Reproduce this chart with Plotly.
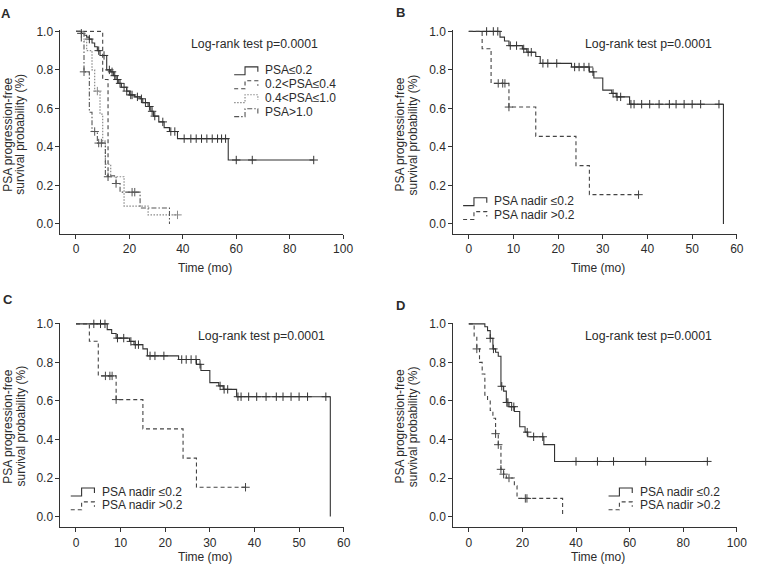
import plotly.graph_objects as go

# ---------------- data ----------------
# Panel A: PSA groups
a1_t = [0, 2, 3, 4, 5, 6, 7, 8, 9, 11.5, 13, 14, 15, 16, 17, 19, 20, 22, 24, 25, 27, 28, 29, 31, 33, 35, 38, 57]
a1_s = [1.0, 0.99, 0.98, 0.97, 0.96, 0.94, 0.92, 0.90, 0.875, 0.80, 0.79, 0.77, 0.75, 0.73, 0.71, 0.69, 0.67, 0.66, 0.65, 0.63, 0.61, 0.585, 0.56, 0.53, 0.50, 0.48, 0.443, 0.332]
a1_c = [2, 5, 8.5, 10.5, 12.5, 13.5, 14.5, 15.5, 16.5, 18, 19, 20.5, 21, 23, 24.5, 26, 27.5, 28.5, 29.5, 32.5,
        35.5, 37, 40.5, 43, 45, 47, 49, 51, 53, 54.5, 56, 60, 66, 89]
a1_end = 89

a2_t = [0, 10, 12]
a2_s = [1.0, 0.75, 0.245]
a2_c = [12]
a2_end = 12

a3_t = [0, 3, 4, 6, 7, 9, 10, 11, 13, 18, 27]
a3_s = [1.0, 0.96, 0.90, 0.80, 0.69, 0.57, 0.43, 0.31, 0.245, 0.093, 0.047]
a3_c = [8, 38]
a3_end = 38

a4_t = [0, 2, 3, 5, 6, 8, 11, 15, 16.5, 24, 35]
a4_s = [1.0, 0.95, 0.79, 0.58, 0.48, 0.42, 0.25, 0.21, 0.165, 0.083, 0.0]
a4_c = [3, 7, 8.5, 9.5, 15, 21, 22]
a4_end = 35

# Panels B and C: PSA nadir
b1_t = [0, 7, 8, 9, 12, 13, 15, 16, 23, 27, 28, 30, 32, 33, 36, 57]
b1_s = [1.0, 0.97, 0.95, 0.926, 0.909, 0.892, 0.87, 0.834, 0.815, 0.79, 0.758, 0.695, 0.678, 0.66, 0.622, 0.0]
b1_c = [4, 5.5, 6.5, 9.3, 10.7, 12.3, 13.3, 14, 16.6, 17.7, 19.7, 23.7, 24.7, 25.8, 26.9, 27.8, 32.3, 33.2, 34,
        36.3, 37, 38.7, 40.5, 42.6, 44.9, 46.4, 48.2, 50, 51.9, 56]
b1_end = 57

b2_t = [0, 3, 5, 9, 15, 24, 27]
b2_s = [1.0, 0.91, 0.73, 0.607, 0.455, 0.303, 0.152]
b2_c = [6.6, 7.6, 8.1, 9, 38]
b2_end = 38

# Panel D: PSA nadir
d1_t = [0, 6, 7, 8, 9, 10, 11, 12, 13, 14, 15, 17, 19, 21, 22, 28, 32]
d1_s = [1.0, 0.985, 0.965, 0.925, 0.87, 0.853, 0.832, 0.676, 0.651, 0.592, 0.57, 0.545, 0.466, 0.438, 0.414, 0.373, 0.286]
d1_c = [8, 9.2, 12.3, 14.2, 14.6, 16, 16.8, 21.8, 24.2, 27.6, 40, 48, 54, 66, 89]
d1_end = 89

d2_t = [0, 2, 3, 4, 5, 6, 7, 8, 9, 10, 11, 12, 13, 14, 17, 18, 35]
d2_s = [1.0, 0.93, 0.87, 0.80, 0.74, 0.63, 0.60, 0.55, 0.51, 0.43, 0.373, 0.245, 0.22, 0.20, 0.16, 0.094, 0.0]
d2_c = [3, 10, 11, 12, 13, 15, 21.1, 21.7]
d2_end = 35

y_ticks = [0.0, 0.2, 0.4, 0.6, 0.8, 1.0]
x_ticks_100 = [0, 20, 40, 60, 80, 100]
x_ticks_60 = [0, 10, 20, 30, 40, 50, 60]

legend_a = ["PSA≤0.2", "0.2&lt;PSA≤0.4", "0.4&lt;PSA≤1.0", "PSA&gt;1.0"]
legend_n = ["PSA nadir ≤0.2", "PSA nadir &gt;0.2"]
logrank = "Log-rank test p=0.0001"
x_title = "Time (mo)"
y_title1 = "PSA progression-free"
y_title2 = "survival probability (%)"

# ---------------- layout helpers ----------------
W, H = 757, 567
FONT = "Liberation Sans, Arial, sans-serif"
TXT = "#2b2b2b"


def xp(px):
    return px / W


def yp(py):
    return 1 - py / H


def step_at(t, s, x):
    v = s[0]
    for ti, si in zip(t, s):
        if ti <= x:
            v = si
    return v


STY = {
    "solid": dict(color="#333333", dash="solid", width=1.1),
    "dash": dict(color="#444444", dash="4px,3px", width=1.1),
    "dot": dict(color="#8a8a8a", dash="1.5px,1.5px", width=1.2),
    "dashdot": dict(color="#555555", dash="5px,2px,1.5px,2px", width=1.1),
}

fig = go.Figure()


def add_curve(t, s, c, end, style, ax):
    xs = list(t) + [end]
    ys = list(s) + [s[-1]]
    st = STY[style]
    fig.add_trace(go.Scatter(x=xs, y=ys, mode="lines", line_shape="hv",
                             line=dict(color=st["color"], dash=st["dash"], width=st["width"]),
                             xaxis="x" + ax, yaxis="y" + ax, showlegend=False, hoverinfo="skip"))
    cy = [step_at(t, s, ci) for ci in c]
    fig.add_trace(go.Scatter(x=c, y=cy, mode="markers", cliponaxis=False,
                             marker=dict(symbol="cross-thin", size=6,
                                         line=dict(color=st["color"], width=1)),
                             xaxis="x" + ax, yaxis="y" + ax, showlegend=False, hoverinfo="skip"))


# axes geometry in pixels: (left, right, top, bottom), x range, y range
panels = {
    "": dict(px=(61.3, 347.7, 24.5, 230.0), xr=[-5.8, 100], yr=[-0.05, 1.006], xt=x_ticks_100),
    "2": dict(px=(459.3, 746.7, 24.5, 230.0), xr=[-3.47, 60], yr=[-0.05, 1.006], xt=x_ticks_60),
    "3": dict(px=(61.3, 348.3, 320.1, 527.0), xr=[-3.47, 60], yr=[-0.0565, 1.006], xt=x_ticks_60),
    "4": dict(px=(459.3, 746.7, 320.1, 527.0), xr=[-5.8, 100], yr=[-0.0565, 1.006], xt=x_ticks_100),
}

add_curve(a1_t, a1_s, a1_c, a1_end, "solid", "")
add_curve(a2_t, a2_s, a2_c, a2_end, "dash", "")
add_curve(a3_t, a3_s, a3_c, a3_end, "dot", "")
add_curve(a4_t, a4_s, a4_c, a4_end, "dashdot", "")
add_curve(b1_t, b1_s, b1_c, b1_end, "solid", "2")
add_curve(b2_t, b2_s, b2_c, b2_end, "dash", "2")
add_curve(b1_t, b1_s, b1_c, b1_end, "solid", "3")
add_curve(b2_t, b2_s, b2_c, b2_end, "dash", "3")
add_curve(d1_t, d1_s, d1_c, d1_end, "solid", "4")
add_curve(d2_t, d2_s, d2_c, d2_end, "dash", "4")

layout = dict(width=W, height=H, autosize=False, margin=dict(l=0, r=0, t=0, b=0),
              paper_bgcolor="white", plot_bgcolor="white", showlegend=False,
              font=dict(family=FONT, size=12, color=TXT))
axis_common = dict(showline=True, linecolor="#333333", linewidth=1, ticks="outside", ticklen=4,
                   tickwidth=1, tickcolor="#333333", showgrid=False, zeroline=False,
                   tickfont=dict(family=FONT, size=12, color=TXT), fixedrange=True)
for ax, p in panels.items():
    l, r, t, b = p["px"]
    layout["xaxis" + ax] = dict(axis_common, domain=[xp(l), xp(r)], range=p["xr"], tickvals=p["xt"],
                                anchor="y" + ax)
    layout["yaxis" + ax] = dict(axis_common, domain=[yp(b), yp(t)], range=p["yr"], tickvals=y_ticks,
                                tickformat=".1f", anchor="x" + ax)
fig.update_layout(**layout)

annotations = []
shapes = []


def text(x, y, s, size=12, anchor="left", bold=False, angle=0):
    annotations.append(dict(x=xp(x), y=yp(y), xref="paper", yref="paper", text=("<b>%s</b>" % s) if bold else s,
                            showarrow=False, xanchor=anchor, yanchor="middle", textangle=angle,
                            font=dict(family=FONT, size=size, color=TXT), borderpad=0))


def glyph(x0, yc, style):
    st = STY[style]
    pts = [(x0, yc + 4.5), (x0 + 11, yc + 4.5), (x0 + 11, yc - 3.5), (x0 + 24, yc - 3.5), (x0 + 24, yc + 1.5)]
    path = "M " + " L ".join("%.5f,%.5f" % (xp(a), yp(b)) for a, b in pts)
    shapes.append(dict(type="path", path=path, xref="paper", yref="paper",
                       line=dict(color=st["color"], dash=st["dash"], width=st["width"])))


# panel letters
text(0, 7.5, "A", 13, bold=True)
text(400, 7, "B", 13, bold=True)
text(2, 297, "C", 13, bold=True)
text(400, 303, "D", 13, bold=True)

# log-rank texts
text(193, 38, logrank, 12.3)
text(592, 38, logrank, 12.3)
text(200, 334, logrank, 12.3)
text(592, 334, logrank, 12.3)

# axis titles
for ax, p in panels.items():
    l, r, t, b = p["px"]
    ty = 265 if b < 300 else 557
    text((l + r) / 2 + 3, ty, x_title, anchor="center")
    yc = 130 if b < 300 else 425
    text(l - 54, yc, y_title1, angle=-90, anchor="center")
    text(l - 41, yc, y_title2, angle=-90, anchor="center")

# legends
for i, (lab, sty) in enumerate(zip(legend_a, ["solid", "dash", "dot", "dashdot"])):
    yc = 65 + 14.1 * i
    glyph(237.3, yc, sty)
    text(268, yc, lab)
for (gx, gy) in [(469.3, 197.3), (71.7, 490.7), (616.7, 490.7)]:
    for i, (lab, sty) in enumerate(zip(legend_n, ["solid", "dash"])):
        yc = gy + 14 * i
        glyph(gx, yc, sty)
        text(gx + 30.5, yc, lab)

fig.update_layout(annotations=annotations, shapes=shapes)
fig.write_html("out.html", config={"displayModeBar": False},
               post_script="document.body.style.margin='0';document.body.style.overflow='hidden';")
